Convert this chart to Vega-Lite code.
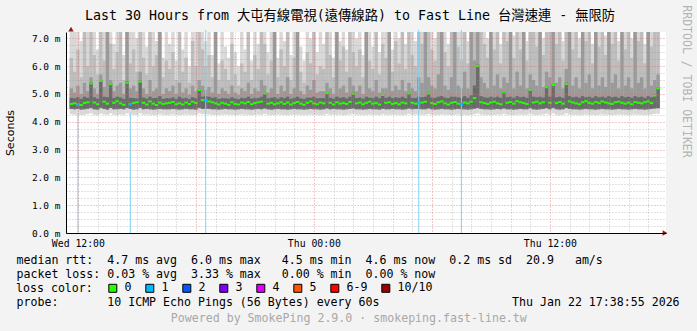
{
"$schema":"https://vega.github.io/schema/vega-lite/v6.json",
"width":600,"height":201,
"autosize":{"type":"none"},
"padding":{"left":66,"top":32,"right":31,"bottom":98},
"background":"#f3f3f3",
"config":{"view":{"fill":"white","stroke":null}},
"datasets":{
"smoke":[
{"t":700,"a":4.27,"b":4.46,"c":7.4,"d":6.3,"e":5.2,"f":4.86,"m":4.64},
{"t":710,"a":4.25,"b":4.45,"c":7.4,"d":5.8,"e":5.05,"f":4.84,"m":4.66},
{"t":720,"a":4.26,"b":4.46,"c":7.4,"d":6.6,"e":5.3,"f":4.88,"m":4.62},
{"t":730,"a":4.24,"b":4.44,"c":6.9,"d":5.6,"e":5.0,"f":4.82,"m":4.6},
{"t":740,"a":4.25,"b":4.45,"c":7.4,"d":7.4,"e":5.4,"f":4.9,"m":4.67},
{"t":750,"a":4.28,"b":4.47,"c":7.4,"d":6.0,"e":5.1,"f":4.86,"m":4.7},
{"t":760,"a":4.3,"b":4.5,"c":7.4,"d":7.4,"e":5.6,"f":5.42,"m":5.38},
{"t":770,"a":4.25,"b":4.45,"c":7.4,"d":6.4,"e":5.2,"f":4.88,"m":4.69},
{"t":780,"a":4.24,"b":4.44,"c":6.6,"d":5.7,"e":5.0,"f":4.83,"m":4.63},
{"t":790,"a":4.29,"b":4.5,"c":7.4,"d":7.4,"e":5.7,"f":5.5,"m":5.47},
{"t":800,"a":4.26,"b":4.46,"c":7.4,"d":6.2,"e":5.25,"f":4.9,"m":4.72},
{"t":810,"a":4.25,"b":4.44,"c":7.4,"d":7.4,"e":7.4,"f":4.88,"m":4.65},
{"t":820,"a":4.3,"b":4.5,"c":7.4,"d":6.8,"e":5.5,"f":5.38,"m":5.35},
{"t":830,"a":4.25,"b":4.45,"c":6.8,"d":5.9,"e":5.1,"f":4.85,"m":4.68},
{"t":840,"a":4.24,"b":4.45,"c":7.4,"d":6.5,"e":5.3,"f":4.9,"m":4.74},
{"t":850,"a":4.26,"b":4.46,"c":7.4,"d":7.4,"e":5.4,"f":4.87,"m":4.66},
{"t":860,"a":4.25,"b":4.45,"c":6.4,"d":5.5,"e":5.0,"f":4.82,"m":4.61},
{"t":870,"a":4.3,"b":4.5,"c":7.4,"d":7.4,"e":7.4,"f":5.45,"m":5.4},
{"t":880,"a":4.26,"b":4.46,"c":7.4,"d":6.1,"e":5.2,"f":4.86,"m":4.63},
{"t":890,"a":4.25,"b":4.44,"c":7.4,"d":6.6,"e":5.3,"f":4.85,"m":4.67},
{"t":900,"a":4.24,"b":4.45,"c":7.0,"d":5.8,"e":5.1,"f":4.84,"m":4.7},
{"t":910,"a":4.3,"b":4.5,"c":7.4,"d":7.4,"e":5.8,"f":5.48,"m":5.44},
{"t":920,"a":4.25,"b":4.45,"c":7.4,"d":6.3,"e":5.2,"f":4.87,"m":4.68},
{"t":930,"a":4.26,"b":4.46,"c":6.7,"d":5.7,"e":5.0,"f":4.83,"m":4.62},
{"t":940,"a":4.25,"b":4.45,"c":7.4,"d":7.4,"e":5.5,"f":4.9,"m":4.73},
{"t":950,"a":4.24,"b":4.44,"c":7.4,"d":6.0,"e":5.1,"f":4.85,"m":4.65},
{"t":960,"a":4.25,"b":4.45,"c":6.9,"d":6.4,"e":5.2,"f":4.86,"m":4.6},
{"t":970,"a":4.27,"b":4.46,"c":7.4,"d":7.4,"e":7.4,"f":4.92,"m":4.69},
{"t":980,"a":4.25,"b":4.45,"c":6.3,"d":5.6,"e":5.0,"f":4.82,"m":4.64},
{"t":990,"a":4.24,"b":4.45,"c":7.4,"d":6.2,"e":5.2,"f":4.85,"m":4.66},
{"t":1000,"a":4.25,"b":4.45,"c":6.8,"d":5.9,"e":5.1,"f":4.84,"m":4.68},
{"t":1010,"a":4.26,"b":4.46,"c":7.4,"d":6.5,"e":5.3,"f":4.88,"m":4.71},
{"t":1020,"a":4.25,"b":4.45,"c":6.2,"d":5.5,"e":5.0,"f":4.82,"m":4.63},
{"t":1030,"a":4.24,"b":4.44,"c":7.4,"d":7.4,"e":5.4,"f":4.9,"m":4.66},
{"t":1040,"a":4.25,"b":4.45,"c":6.6,"d":5.8,"e":5.05,"f":4.84,"m":4.62},
{"t":1050,"a":4.26,"b":4.46,"c":7.4,"d":6.3,"e":5.2,"f":4.86,"m":4.69},
{"t":1060,"a":4.25,"b":4.45,"c":6.0,"d":5.4,"e":4.98,"f":4.81,"m":4.64},
{"t":1070,"a":4.25,"b":4.45,"c":7.4,"d":6.9,"e":5.3,"f":4.88,"m":4.72},
{"t":1080,"a":4.24,"b":4.44,"c":7.4,"d":6.0,"e":5.1,"f":4.85,"m":4.67},
{"t":1090,"a":4.3,"b":4.5,"c":7.4,"d":7.4,"e":5.5,"f":5.18,"m":5.14},
{"t":1100,"a":4.27,"b":4.46,"c":7.4,"d":6.6,"e":5.3,"f":4.9,"m":4.78},
{"t":1110,"a":4.27,"b":4.47,"c":6.9,"d":6.0,"e":5.15,"f":4.92,"m":4.76},
{"t":1120,"a":4.26,"b":4.46,"c":7.4,"d":6.4,"e":5.25,"f":4.9,"m":4.73},
{"t":1130,"a":4.25,"b":4.45,"c":6.4,"d":5.6,"e":5.05,"f":4.86,"m":4.7},
{"t":1140,"a":4.25,"b":4.45,"c":7.4,"d":7.4,"e":7.4,"f":4.88,"m":4.66},
{"t":1150,"a":4.24,"b":4.44,"c":6.1,"d":5.5,"e":5.0,"f":4.82,"m":4.62},
{"t":1160,"a":4.25,"b":4.45,"c":7.4,"d":6.2,"e":5.2,"f":4.85,"m":4.68},
{"t":1170,"a":4.26,"b":4.46,"c":6.7,"d":5.9,"e":5.1,"f":4.84,"m":4.65},
{"t":1180,"a":4.25,"b":4.45,"c":6.3,"d":5.5,"e":5.0,"f":4.83,"m":4.61},
{"t":1190,"a":4.25,"b":4.45,"c":7.4,"d":6.8,"e":5.3,"f":4.88,"m":4.7},
{"t":1200,"a":4.24,"b":4.44,"c":6.5,"d":5.7,"e":5.05,"f":4.84,"m":4.64},
{"t":1210,"a":4.25,"b":4.45,"c":6.0,"d":5.3,"e":4.97,"f":4.81,"m":4.62},
{"t":1220,"a":4.26,"b":4.46,"c":7.4,"d":6.1,"e":5.2,"f":4.86,"m":4.69},
{"t":1230,"a":4.25,"b":4.45,"c":6.6,"d":5.8,"e":5.1,"f":4.85,"m":4.66},
{"t":1240,"a":4.25,"b":4.45,"c":7.4,"d":7.4,"e":5.4,"f":4.9,"m":4.71},
{"t":1250,"a":4.24,"b":4.44,"c":6.2,"d":5.5,"e":5.0,"f":4.83,"m":4.63},
{"t":1260,"a":4.25,"b":4.45,"c":7.4,"d":6.4,"e":5.2,"f":4.86,"m":4.67},
{"t":1270,"a":4.26,"b":4.46,"c":6.8,"d":5.9,"e":5.1,"f":4.85,"m":4.7},
{"t":1280,"a":4.25,"b":4.45,"c":7.4,"d":7.4,"e":5.5,"f":4.9,"m":4.72},
{"t":1290,"a":4.28,"b":4.48,"c":7.4,"d":6.8,"e":5.3,"f":5.05,"m":5.02},
{"t":1300,"a":4.25,"b":4.45,"c":6.5,"d":5.7,"e":5.05,"f":4.84,"m":4.65},
{"t":1310,"a":4.24,"b":4.44,"c":7.4,"d":6.2,"e":5.2,"f":4.86,"m":4.68},
{"t":1320,"a":4.25,"b":4.45,"c":7.4,"d":7.4,"e":7.4,"f":4.88,"m":4.63},
{"t":1330,"a":4.26,"b":4.46,"c":6.3,"d":5.6,"e":5.0,"f":4.83,"m":4.66},
{"t":1340,"a":4.25,"b":4.45,"c":7.4,"d":6.6,"e":5.3,"f":4.88,"m":4.7},
{"t":1350,"a":4.25,"b":4.45,"c":6.9,"d":6.0,"e":5.1,"f":4.85,"m":4.64},
{"t":1360,"a":4.24,"b":4.44,"c":7.4,"d":7.4,"e":5.6,"f":4.9,"m":4.69},
{"t":1370,"a":4.25,"b":4.45,"c":6.4,"d":5.5,"e":5.0,"f":4.82,"m":4.62},
{"t":1380,"a":4.26,"b":4.46,"c":7.4,"d":6.3,"e":5.2,"f":4.86,"m":4.67},
{"t":1390,"a":4.25,"b":4.45,"c":7.4,"d":7.4,"e":7.4,"f":4.9,"m":4.71},
{"t":1400,"a":4.25,"b":4.45,"c":6.7,"d":5.8,"e":5.1,"f":4.84,"m":4.65},
{"t":1410,"a":4.24,"b":4.44,"c":6.2,"d":5.4,"e":4.98,"f":4.82,"m":4.61},
{"t":1420,"a":4.25,"b":4.45,"c":7.4,"d":6.5,"e":5.3,"f":4.87,"m":4.68},
{"t":1430,"a":4.26,"b":4.46,"c":7.0,"d":6.1,"e":5.15,"f":4.86,"m":4.73},
{"t":1440,"a":4.25,"b":4.45,"c":7.4,"d":7.4,"e":5.5,"f":4.9,"m":4.66},
{"t":1450,"a":4.25,"b":4.45,"c":6.5,"d":5.7,"e":5.05,"f":4.84,"m":4.63},
{"t":1460,"a":4.24,"b":4.44,"c":7.4,"d":6.0,"e":5.1,"f":4.85,"m":4.69},
{"t":1470,"a":4.25,"b":4.45,"c":6.8,"d":5.9,"e":5.1,"f":4.85,"m":4.66},
{"t":1480,"a":4.28,"b":4.48,"c":7.4,"d":7.4,"e":5.4,"f":5.06,"m":5.03},
{"t":1490,"a":4.25,"b":4.45,"c":7.4,"d":6.4,"e":5.2,"f":4.86,"m":4.68},
{"t":1500,"a":4.26,"b":4.46,"c":6.3,"d":5.6,"e":5.0,"f":4.83,"m":4.62},
{"t":1510,"a":4.25,"b":4.45,"c":7.4,"d":7.4,"e":7.4,"f":4.9,"m":4.7},
{"t":1520,"a":4.25,"b":4.45,"c":6.9,"d":6.2,"e":5.2,"f":4.86,"m":4.65},
{"t":1530,"a":4.24,"b":4.44,"c":7.4,"d":6.7,"e":5.3,"f":4.88,"m":4.67},
{"t":1540,"a":4.25,"b":4.45,"c":6.6,"d":5.8,"e":5.05,"f":4.84,"m":4.64},
{"t":1550,"a":4.26,"b":4.46,"c":7.4,"d":7.4,"e":5.6,"f":4.9,"m":4.71},
{"t":1560,"a":4.28,"b":4.48,"c":7.4,"d":6.5,"e":5.3,"f":5.05,"m":5.01},
{"t":1570,"a":4.25,"b":4.45,"c":7.0,"d":6.0,"e":5.1,"f":4.85,"m":4.66},
{"t":1580,"a":4.25,"b":4.45,"c":7.4,"d":6.6,"e":5.3,"f":4.87,"m":4.69},
{"t":1590,"a":4.24,"b":4.44,"c":6.4,"d":5.6,"e":5.0,"f":4.83,"m":4.63},
{"t":1600,"a":4.25,"b":4.45,"c":7.4,"d":7.4,"e":7.4,"f":4.9,"m":4.68},
{"t":1610,"a":4.26,"b":4.46,"c":7.4,"d":6.2,"e":5.2,"f":4.86,"m":4.72},
{"t":1620,"a":4.25,"b":4.45,"c":6.7,"d":5.9,"e":5.1,"f":4.85,"m":4.65},
{"t":1630,"a":4.25,"b":4.45,"c":7.4,"d":7.4,"e":5.5,"f":4.9,"m":4.67},
{"t":1640,"a":4.24,"b":4.44,"c":6.5,"d":5.7,"e":5.05,"f":4.84,"m":4.62},
{"t":1650,"a":4.27,"b":4.47,"c":7.4,"d":6.8,"e":5.2,"f":4.98,"m":4.96},
{"t":1660,"a":4.25,"b":4.45,"c":7.4,"d":6.3,"e":5.2,"f":4.86,"m":4.68},
{"t":1670,"a":4.25,"b":4.45,"c":7.4,"d":7.4,"e":7.4,"f":4.9,"m":4.7},
{"t":1680,"a":4.26,"b":4.46,"c":6.6,"d":5.8,"e":5.1,"f":4.85,"m":4.64},
{"t":1690,"a":4.25,"b":4.45,"c":7.4,"d":6.9,"e":5.3,"f":4.88,"m":4.67},
{"t":1700,"a":4.25,"b":4.45,"c":7.0,"d":6.1,"e":5.15,"f":4.86,"m":4.63},
{"t":1710,"a":4.24,"b":4.44,"c":7.4,"d":7.4,"e":5.5,"f":4.9,"m":4.69},
{"t":1720,"a":4.25,"b":4.45,"c":6.8,"d":5.9,"e":5.1,"f":4.85,"m":4.66},
{"t":1730,"a":4.28,"b":4.48,"c":7.4,"d":7.4,"e":5.4,"f":5.05,"m":5.02},
{"t":1740,"a":4.25,"b":4.45,"c":7.4,"d":6.4,"e":5.2,"f":4.86,"m":4.68},
{"t":1750,"a":4.26,"b":4.46,"c":6.9,"d":6.0,"e":5.1,"f":4.85,"m":4.65},
{"t":1760,"a":4.26,"b":4.46,"c":7.4,"d":7.4,"e":5.6,"f":4.9,"m":4.66},
{"t":1770,"a":4.25,"b":4.45,"c":7.4,"d":6.8,"e":5.4,"f":4.88,"m":4.69},
{"t":1780,"a":4.25,"b":4.45,"c":7.4,"d":7.4,"e":7.4,"f":4.9,"m":4.72},
{"t":1790,"a":4.28,"b":4.48,"c":7.4,"d":7.4,"e":5.6,"f":5.06,"m":5.02},
{"t":1800,"a":4.25,"b":4.45,"c":7.4,"d":6.6,"e":5.3,"f":4.87,"m":4.67},
{"t":1810,"a":4.24,"b":4.44,"c":7.0,"d":6.2,"e":5.2,"f":4.86,"m":4.64},
{"t":1820,"a":4.25,"b":4.45,"c":7.4,"d":7.4,"e":5.7,"f":4.9,"m":4.7},
{"t":1830,"a":4.26,"b":4.46,"c":7.4,"d":7.4,"e":7.4,"f":4.92,"m":4.73},
{"t":1840,"a":4.25,"b":4.45,"c":7.4,"d":6.5,"e":5.3,"f":4.87,"m":4.66},
{"t":1850,"a":4.25,"b":4.45,"c":6.8,"d":6.0,"e":5.15,"f":4.85,"m":4.62},
{"t":1860,"a":4.24,"b":4.44,"c":7.4,"d":7.4,"e":5.6,"f":4.9,"m":4.68},
{"t":1870,"a":4.25,"b":4.45,"c":7.4,"d":7.4,"e":7.4,"f":4.9,"m":4.71},
{"t":1880,"a":4.26,"b":4.46,"c":7.4,"d":6.7,"e":5.3,"f":4.88,"m":4.65},
{"t":1890,"a":4.25,"b":4.45,"c":7.4,"d":6.2,"e":5.2,"f":4.86,"m":4.63},
{"t":1900,"a":4.25,"b":4.45,"c":7.4,"d":7.4,"e":5.8,"f":4.92,"m":4.69},
{"t":1910,"a":4.24,"b":4.44,"c":6.9,"d":6.1,"e":5.2,"f":4.86,"m":4.66},
{"t":1920,"a":4.25,"b":4.45,"c":7.4,"d":7.4,"e":7.4,"f":4.95,"m":4.72},
{"t":1930,"a":4.27,"b":4.47,"c":7.4,"d":7.4,"e":6.2,"f":5.3,"m":4.85},
{"t":1940,"a":4.3,"b":4.5,"c":7.4,"d":7.4,"e":7.4,"f":6.05,"m":6.0},
{"t":1950,"a":4.26,"b":4.46,"c":7.4,"d":7.4,"e":5.6,"f":4.92,"m":4.7},
{"t":1960,"a":4.25,"b":4.45,"c":7.4,"d":6.8,"e":5.4,"f":4.88,"m":4.67},
{"t":1970,"a":4.25,"b":4.45,"c":7.0,"d":6.3,"e":5.2,"f":4.86,"m":4.64},
{"t":1980,"a":4.24,"b":4.44,"c":7.4,"d":7.4,"e":7.4,"f":4.9,"m":4.69},
{"t":1990,"a":4.25,"b":4.45,"c":7.4,"d":6.6,"e":5.3,"f":4.87,"m":4.72},
{"t":2000,"a":4.26,"b":4.46,"c":7.4,"d":7.4,"e":5.7,"f":4.9,"m":4.66},
{"t":2010,"a":4.25,"b":4.45,"c":6.8,"d":6.1,"e":5.2,"f":4.86,"m":4.63},
{"t":2020,"a":4.28,"b":4.48,"c":7.4,"d":7.4,"e":5.6,"f":5.1,"m":5.06},
{"t":2030,"a":4.25,"b":4.45,"c":7.4,"d":6.9,"e":5.4,"f":4.88,"m":4.68},
{"t":2040,"a":4.25,"b":4.45,"c":7.4,"d":7.4,"e":7.4,"f":4.9,"m":4.71},
{"t":2050,"a":4.24,"b":4.44,"c":7.1,"d":6.3,"e":5.2,"f":4.86,"m":4.65},
{"t":2060,"a":4.25,"b":4.45,"c":7.4,"d":7.4,"e":5.8,"f":4.92,"m":4.74},
{"t":2070,"a":4.26,"b":4.46,"c":7.4,"d":6.6,"e":5.3,"f":4.88,"m":4.7},
{"t":2080,"a":4.25,"b":4.45,"c":7.4,"d":7.4,"e":7.4,"f":4.9,"m":4.67},
{"t":2090,"a":4.25,"b":4.45,"c":6.9,"d":6.2,"e":5.2,"f":4.86,"m":4.64},
{"t":2100,"a":4.29,"b":4.49,"c":7.4,"d":7.4,"e":5.7,"f":5.18,"m":5.14},
{"t":2110,"a":4.25,"b":4.45,"c":7.4,"d":7.4,"e":5.5,"f":4.9,"m":4.69},
{"t":2120,"a":4.24,"b":4.44,"c":7.4,"d":6.7,"e":5.3,"f":4.88,"m":4.72},
{"t":2130,"a":4.25,"b":4.45,"c":7.4,"d":7.4,"e":7.4,"f":4.9,"m":4.66},
{"t":2140,"a":4.26,"b":4.46,"c":7.0,"d":6.4,"e":5.25,"f":4.87,"m":4.7},
{"t":2150,"a":4.29,"b":4.49,"c":7.4,"d":7.4,"e":5.8,"f":5.28,"m":5.24},
{"t":2160,"a":4.25,"b":4.45,"c":7.4,"d":7.4,"e":5.6,"f":4.9,"m":4.68},
{"t":2170,"a":4.3,"b":4.5,"c":7.4,"d":7.4,"e":7.4,"f":5.36,"m":5.32},
{"t":2180,"a":4.25,"b":4.45,"c":7.4,"d":6.8,"e":5.4,"f":4.88,"m":4.67},
{"t":2190,"a":4.24,"b":4.44,"c":7.4,"d":7.4,"e":5.6,"f":4.9,"m":4.71},
{"t":2200,"a":4.25,"b":4.45,"c":6.9,"d":6.2,"e":5.2,"f":4.86,"m":4.65},
{"t":2210,"a":4.3,"b":4.5,"c":7.4,"d":7.4,"e":5.9,"f":5.4,"m":5.35},
{"t":2220,"a":4.26,"b":4.46,"c":7.4,"d":7.4,"e":7.4,"f":4.92,"m":4.73},
{"t":2230,"a":4.25,"b":4.45,"c":7.4,"d":6.6,"e":5.3,"f":4.88,"m":4.69},
{"t":2240,"a":4.25,"b":4.45,"c":7.4,"d":7.4,"e":5.6,"f":4.9,"m":4.66},
{"t":2250,"a":4.24,"b":4.44,"c":7.0,"d":6.3,"e":5.2,"f":4.86,"m":4.63},
{"t":2260,"a":4.25,"b":4.45,"c":7.4,"d":7.4,"e":7.4,"f":4.92,"m":4.7},
{"t":2270,"a":4.26,"b":4.46,"c":7.4,"d":6.9,"e":5.4,"f":4.88,"m":4.74},
{"t":2280,"a":4.25,"b":4.45,"c":7.4,"d":7.4,"e":5.7,"f":4.9,"m":4.68},
{"t":2290,"a":4.25,"b":4.45,"c":6.8,"d":6.1,"e":5.2,"f":4.86,"m":4.65},
{"t":2300,"a":4.24,"b":4.44,"c":7.4,"d":7.4,"e":7.4,"f":4.92,"m":4.71},
{"t":2310,"a":4.25,"b":4.45,"c":7.4,"d":6.7,"e":5.3,"f":4.88,"m":4.67},
{"t":2320,"a":4.26,"b":4.46,"c":7.4,"d":7.4,"e":5.6,"f":4.9,"m":4.73},
{"t":2330,"a":4.25,"b":4.45,"c":7.1,"d":6.4,"e":5.25,"f":4.87,"m":4.69},
{"t":2340,"a":4.25,"b":4.45,"c":7.4,"d":7.4,"e":7.4,"f":4.92,"m":4.66},
{"t":2350,"a":4.24,"b":4.44,"c":7.4,"d":6.8,"e":5.4,"f":4.88,"m":4.64},
{"t":2360,"a":4.25,"b":4.45,"c":7.4,"d":7.4,"e":5.7,"f":4.9,"m":4.7},
{"t":2370,"a":4.26,"b":4.46,"c":6.9,"d":6.2,"e":5.2,"f":4.86,"m":4.72},
{"t":2380,"a":4.25,"b":4.45,"c":7.4,"d":7.4,"e":7.4,"f":4.92,"m":4.68},
{"t":2390,"a":4.25,"b":4.45,"c":7.4,"d":6.6,"e":5.3,"f":4.88,"m":4.65},
{"t":2400,"a":4.24,"b":4.44,"c":7.4,"d":7.4,"e":5.6,"f":4.9,"m":4.69},
{"t":2410,"a":4.25,"b":4.45,"c":7.0,"d":6.3,"e":5.2,"f":4.86,"m":4.63},
{"t":2420,"a":4.26,"b":4.46,"c":7.4,"d":7.4,"e":7.4,"f":4.92,"m":4.71},
{"t":2430,"a":4.25,"b":4.45,"c":7.4,"d":6.9,"e":5.4,"f":4.88,"m":4.68},
{"t":2440,"a":4.25,"b":4.45,"c":7.4,"d":7.4,"e":5.6,"f":4.9,"m":4.66},
{"t":2450,"a":4.24,"b":4.44,"c":6.8,"d":6.1,"e":5.2,"f":4.86,"m":4.7},
{"t":2460,"a":4.25,"b":4.45,"c":7.4,"d":7.4,"e":7.4,"f":4.92,"m":4.73},
{"t":2470,"a":4.26,"b":4.46,"c":7.4,"d":6.7,"e":5.3,"f":4.88,"m":4.67},
{"t":2480,"a":4.28,"b":4.48,"c":7.4,"d":7.4,"e":5.5,"f":4.98,"m":4.94},
{"t":2490,"a":4.29,"b":4.49,"c":7.4,"d":7.4,"e":5.7,"f":5.24,"m":5.2}
],
"loss":[
{"t":720,"m":4.62,"top":4.3,"l":"1"},
{"t":880,"m":4.63,"top":4.3,"l":"1"},
{"t":1110,"m":4.76,"top":7.3,"l":"1"},
{"t":1760,"m":4.66,"top":7.3,"l":"1"},
{"t":1890,"m":4.63,"top":7.3,"l":"1"}
]
},
"resolve":{"axis":{"x":"independent","y":"independent"}},
"layer":[
{"data":{"name":"smoke"},
 "mark":{"type":"bar","width":3.4,"clip":true,"color":"#d8d8d8"},
 "encoding":{
  "x":{"field":"t","type":"quantitative","scale":{"domain":[699,2499],"nice":false,"zero":false},
   "axis":{"orient":"bottom","zindex":1,
    "values":[720,780,840,900,960,1020,1080,1140,1200,1260,1320,1380,1440,1500,1560,1620,1680,1740,1800,1860,1920,1980,2040,2100,2160,2220,2280,2340,2400,2460],
    "grid":true,"gridColor":{"condition":{"test":"datum.value % 360 === 0","value":"rgba(225,110,110,0.75)"},"value":"rgba(150,150,150,0.55)"},"gridDash":[1,2],"gridWidth":1,
    "domain":true,"domainColor":"black","domainWidth":1,"ticks":false,"tickSize":0,
    "labelExpr":"datum.value === 720 ? 'Wed 12:00' : datum.value === 1440 ? 'Thu 00:00' : datum.value === 2160 ? 'Thu 12:00' : ''",
    "labelFont":"DejaVu Sans Mono","labelFontSize":9.8,"labelColor":"black","labelPadding":5,"labelBaseline":"top","labelAlign":"center","labelOverlap":false,"labelFlush":false,
    "title":["median rtt:\u00a0\u00a04.7 ms avg\u00a0\u00a06.0 ms max\u00a0\u00a0\u00a04.5 ms min\u00a0\u00a04.6 ms now\u00a0\u00a00.2 ms sd\u00a0\u00a020.9\u00a0\u00a0\u00a0am/s",
             "packet loss: 0.03 % avg\u00a0\u00a03.33 % max\u00a0\u00a0\u00a00.00 % min\u00a0\u00a00.00 % now"],
    "titleFont":"DejaVu Sans Mono","titleFontSize":11.6,"titleFontWeight":"normal","titleColor":"black",
    "titleAlign":"left","titleAnchor":"start","titleBaseline":"alphabetic","titleX":-50,"titleY":30.5,"titleLineHeight":13.9,"titleAngle":0}},
  "y":{"field":"a","type":"quantitative","scale":{"domain":[0,7.226],"nice":false,"zero":false},
   "axis":{"orient":"left","zindex":1,
    "values":[0,0.25,0.5,0.75,1,1.25,1.5,1.75,2,2.25,2.5,2.75,3,3.25,3.5,3.75,4,4.25,4.5,4.75,5,5.25,5.5,5.75,6,6.25,6.5,6.75,7],
    "grid":true,"gridColor":{"condition":{"test":"datum.value % 1 === 0","value":"rgba(225,110,110,0.75)"},"value":"rgba(150,150,150,0.55)"},"gridDash":[1,2],"gridWidth":1,
    "domain":true,"domainColor":"black","domainWidth":1,"ticks":false,"tickSize":0,
    "labelExpr":"datum.value % 1 === 0 ? format(datum.value, '.1f') + ' m' : ''",
    "labelFont":"DejaVu Sans Mono","labelFontSize":9.5,"labelColor":"black","labelPadding":6,"labelBaseline":"middle","labelAlign":"right","labelOverlap":false,"labelFlush":false,
    "title":"Seconds","titleFont":"DejaVu Sans","titleFontSize":11,"titleFontWeight":"normal","titleColor":"black",
    "titleX":-55.3,"titleY":100.5,"titleAngle":-90,"titleAlign":"center","titleBaseline":"middle"}},
  "y2":{"field":"c"}}},
{"data":{"name":"smoke"},
 "mark":{"type":"bar","width":3.4,"clip":true,"color":"#bdbdbd"},
 "encoding":{
  "x":{"field":"t","type":"quantitative","scale":{"domain":[699,2499],"nice":false,"zero":false},"axis":null},
  "y":{"field":"b","type":"quantitative","scale":{"domain":[0,7.226],"nice":false,"zero":false},"axis":null},
  "y2":{"field":"d"}}},
{"data":{"name":"smoke"},
 "mark":{"type":"bar","width":3.4,"clip":true,"color":"#9a9a9a"},
 "encoding":{
  "x":{"field":"t","type":"quantitative","scale":{"domain":[699,2499],"nice":false,"zero":false},"axis":null},
  "y":{"field":"b","type":"quantitative","scale":{"domain":[0,7.226],"nice":false,"zero":false},"axis":null},
  "y2":{"field":"e"}}},
{"data":{"name":"smoke"},
 "mark":{"type":"bar","width":3.4,"clip":true,"color":"#6a6a6a"},
 "encoding":{
  "x":{"field":"t","type":"quantitative","scale":{"domain":[699,2499],"nice":false,"zero":false},"axis":null},
  "y":{"field":"b","type":"quantitative","scale":{"domain":[0,7.226],"nice":false,"zero":false},"axis":null},
  "y2":{"field":"f"}}},
{"data":{"name":"smoke"},
 "mark":{"type":"tick","orient":"horizontal","size":3.4,"thickness":2,"color":"#26ff00","opacity":1,"clip":true},
 "encoding":{
  "x":{"field":"t","type":"quantitative","scale":{"domain":[699,2499],"nice":false,"zero":false},
   "axis":{"orient":"top","domain":false,"labels":false,"ticks":false,"grid":false,
    "title":"Last 30 Hours from 大屯有線電視(遠傳線路) to Fast Line 台灣速連 - 無限防",
    "titleFont":"DejaVu Sans Mono, Noto Sans CJK TC","titleFontSize":13.3,"titleFontWeight":"normal","titleColor":"black",
    "titleX":283.5,"titleY":-16.7,"titleAlign":"center","titleBaseline":"middle","titleAngle":0}},
  "y":{"field":"m","type":"quantitative","scale":{"domain":[0,7.226],"nice":false,"zero":false},
   "axis":{"orient":"right","domain":false,"labels":false,"ticks":false,"grid":false,
    "title":"RRDTOOL / TOBI OETIKER","titleFont":"DejaVu Sans Mono","titleFontSize":11.5,"titleFontWeight":"normal","titleColor":"#b4b4b4",
    "titleAngle":90,"titleX":19,"titleY":49,"titleAlign":"center","titleBaseline":"middle"}}}},
{"data":{"name":"loss"},
 "mark":{"type":"rule","color":"#7fd3f3","strokeWidth":1},
 "encoding":{
  "x":{"field":"t","type":"quantitative","scale":{"domain":[699,2499],"nice":false,"zero":false},
   "axis":{"orient":"top","domain":false,"labels":false,"ticks":false,"grid":false,
    "title":"Powered by SmokePing 2.9.0 · smokeping.fast-line.tw",
    "titleFont":"DejaVu Sans Mono","titleFontSize":11.6,"titleFontWeight":"normal","titleColor":"#a8a8a8",
    "titleX":282.3,"titleY":286.5,"titleAlign":"center","titleBaseline":"middle","titleAngle":0}},
  "y":{"field":"top","type":"quantitative","scale":{"domain":[0,7.226],"nice":false,"zero":false},"axis":null},
  "y2":{"datum":0}}},
{"data":{"name":"loss"},
 "mark":{"type":"tick","orient":"horizontal","size":3.4,"thickness":2,"opacity":1},
 "encoding":{
  "x":{"field":"t","type":"quantitative","scale":{"domain":[699,2499],"nice":false,"zero":false},
   "axis":{"orient":"top","domain":false,"labels":false,"ticks":false,"grid":false,
    "title":"probe:\u00a0\u00a0\u00a0\u00a0\u00a0\u00a0\u00a010 ICMP Echo Pings (56 Bytes) every 60s\u00a0\u00a0\u00a0\u00a0\u00a0\u00a0\u00a0\u00a0\u00a0\u00a0\u00a0\u00a0\u00a0\u00a0\u00a0\u00a0\u00a0\u00a0\u00a0Thu Jan 22 17:38:55 2026",
    "titleFont":"DejaVu Sans Mono","titleFontSize":11.6,"titleFontWeight":"normal","titleColor":"black",
    "titleX":-50,"titleY":273,"titleAlign":"left","titleAnchor":"start","titleBaseline":"alphabetic","titleAngle":0}},
  "y":{"field":"m","type":"quantitative","scale":{"domain":[0,7.226],"nice":false,"zero":false},"axis":null},
  "color":{"field":"l","type":"nominal",
   "scale":{"domain":["0","1","2","3","4","5","6-9","10/10"],"range":["#26ff00","#00b8ff","#0059ff","#7e00ff","#dd00ff","#ff5500","#ff0000","#a10000"]},
   "legend":{"orient":"none","legendX":-50,"legendY":250.5,"direction":"horizontal","columns":8,"gridAlign":"none",
    "title":"loss color:","titleOrient":"left","titleAnchor":"start","titleBaseline":"top","titlePadding":14,
    "titleFont":"DejaVu Sans Mono","titleFontSize":11.6,"titleFontWeight":"normal","titleColor":"black",
    "symbolType":"square","symbolSize":64,"symbolStrokeWidth":1,"symbolStrokeColor":"black","symbolOpacity":1,
    "labelFont":"DejaVu Sans Mono","labelFontSize":11.6,"labelColor":"black","labelOffset":6,"columnPadding":11,"padding":0,"labelBaseline":"middle",
    "encode":{"symbols":{"update":{"stroke":{"value":"black"},"strokeWidth":{"value":1},"opacity":{"value":1}}}}}}}},
{"data":{"values":[{}]},
 "mark":{"type":"point","shape":"triangle-right","filled":true,"color":"#8b1a1a","size":28,"opacity":1},
 "encoding":{
  "x":{"datum":2511,"type":"quantitative","scale":{"domain":[699,2499],"nice":false,"zero":false},"axis":null},
  "y":{"datum":0,"type":"quantitative","scale":{"domain":[0,7.226],"nice":false,"zero":false},"axis":null}}},
{"data":{"values":[{}]},
 "mark":{"type":"point","shape":"triangle-up","filled":true,"color":"#8b1a1a","size":28,"opacity":1},
 "encoding":{
  "x":{"datum":699,"type":"quantitative","scale":{"domain":[699,2499],"nice":false,"zero":false},"axis":null},
  "y":{"datum":7.33,"type":"quantitative","scale":{"domain":[0,7.226],"nice":false,"zero":false},"axis":null}}}
]
}
